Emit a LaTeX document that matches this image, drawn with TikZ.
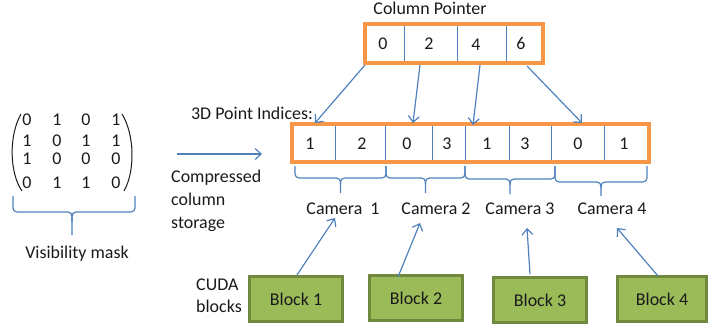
\documentclass[tikz,border=0pt]{standalone}
\usepackage{fontspec}
\setmainfont{Carlito}
\usetikzlibrary{arrows.meta}
\definecolor{lineblue}{HTML}{4F81BD}
\definecolor{boxorange}{HTML}{F79646}
\definecolor{blockgreen}{HTML}{9BBB59}
\definecolor{blockedge}{HTML}{71893F}
\definecolor{txt}{HTML}{1A1A1A}
\begin{document}
\begin{tikzpicture}[x=1bp,y=-1bp,
  lbl/.style={font=\fontsize{18}{20}\selectfont, text=txt, inner sep=0pt},
  conn/.style={draw=lineblue, line width=1.2bp},
  arr/.style={conn, -{Straight Barb[length=6bp,width=11bp]}},
  orangebox/.style={draw=boxorange, line width=4bp},
  divider/.style={draw=lineblue, line width=0.9bp},
  blockbox/.style={draw=blockedge, fill=blockgreen, line width=3bp, minimum width=#1, minimum height=45bp, inner sep=0pt, lbl},
  bracepath/.style={draw=lineblue, line width=1.2bp, rounded corners=4bp}
]
\useasboundingbox (0,0) rectangle (708,329);

% ---------- visibility matrix ----------
\foreach \r/\y/\a/\b/\c/\d in {1/120/0/1/0/1, 2/141/1/0/1/1, 3/159/1/0/0/0, 4/183/0/1/1/0}{
  \node[lbl] (m\r a) at (27,\y) {\a};
  \node[lbl] (m\r b) at (57,\y) {\b};
  \node[lbl] (m\r c) at (86,\y) {\c};
  \node[lbl] (m\r d) at (116,\y) {\d};
}
\draw[txt, line width=1bp] (21,114) .. controls (9,135) and (9,172) .. (22,191);
\draw[txt, line width=1bp] (122,114) .. controls (135,135) and (135,172) .. (124,191);
% brace under matrix
\coordinate (mbl) at (13,196);
\coordinate (mbr) at (135,196);
\coordinate (mbt) at (72,235);
\draw[bracepath] (mbl) |- (72,212) -- (mbt);
\draw[bracepath] (mbr) |- (72,212) -- (72,222);
\node[lbl] (vis) at (77,254) {Visibility mask};

% ---------- compressed column storage arrow ----------
\coordinate (ccsA) at (177,154);
\coordinate (ccsB) at (262,154);
\draw[arr] (ccsA) -- (ccsB);
\node[lbl, align=left, anchor=north west] (ccs) at (171,170)
  {Compressed\\[3bp]column\\[3bp]storage};

% ---------- column pointer ----------
\node[lbl] (cptitle) at (430,8) {Column Pointer};
\draw[divider] (404,24) -- (404,63) (457,24) -- (457,63) (506,24) -- (506,63);
\draw[orangebox] (365,24) rectangle (543,63);
\node[lbl] (cp0) at (383,44) {0};
\node[lbl] (cp1) at (429,44) {2};
\node[lbl] (cp2) at (476,45) {4};
\node[lbl] (cp3) at (521,44) {6};

% ---------- 3D point indices ----------
\node[lbl] (pititle) at (252,113) {3D Point Indices:};
\foreach \x in {335,385,432,465,509,551,604}{
  \draw[divider] (\x,124) -- (\x,162);
}
\draw[orangebox] (292,124) rectangle (649,162);
\foreach \i/\x/\v in {0/310/1, 1/362/2, 2/407/0, 3/447/3, 4/487/1, 5/525/3, 6/578/0, 7/624/1}{
  \node[lbl] (pi\i) at (\x,144) {\v};
}

% ---------- pointer arrows ----------
\coordinate (pa0) at (365,65);
\coordinate (pb0) at (315,123);
\coordinate (pa1) at (420,65);
\coordinate (pb1) at (413,123);
\coordinate (pa2) at (480,65);
\coordinate (pb2) at (473,125);
\coordinate (pa3) at (527,66);
\coordinate (pb3) at (582,123);
\foreach \k in {0,1,2,3}{ \draw[arr] (pa\k) -- (pb\k); }

% ---------- braces under index array ----------
\foreach \k/\xa/\xb/\ym/\yt in {1/295/386/178/193, 2/386/465/178/193, 3/465/555/179/194, 4/555/647/182/196}{
  \pgfmathsetmacro{\xc}{(\xa+\xb)/2}
  \coordinate (br\k l) at (\xa,166);
  \coordinate (br\k r) at (\xb,166);
  \coordinate (br\k t) at (\xc,\yt);
  \draw[bracepath] (br\k l) |- (\xc,\ym) -- (br\k t);
  \draw[bracepath] (br\k r) |- (\xc,\ym) -- (\xc,\ym+6);
}

% ---------- camera labels ----------
\node[lbl] (cam1) at (343,209) {Camera\ \ 1};
\node[lbl] (cam2) at (436,209) {Camera 2};
\node[lbl] (cam3) at (520,209) {Camera 3};
\node[lbl] (cam4) at (612,209) {Camera 4};

% ---------- CUDA blocks ----------
\node[lbl, align=left] (cuda) at (219,296) {CUDA\\[2bp]blocks};
\node[blockbox=93bp] (b1) at (296,299) {Block 1};
\node[blockbox=93bp] (b2) at (416,298) {Block 2};
\node[blockbox=93bp] (b3) at (540,300) {Block 3};
\node[blockbox=89bp] (b4) at (662,299) {Block 4};

% ---------- block to camera arrows ----------
\coordinate (ba1) at (297,275);
\coordinate (bt1) at (335,218);
\coordinate (ba2) at (398,277);
\coordinate (bt2) at (420,223);
\coordinate (ba3) at (530,274);
\coordinate (bt3) at (527,228);
\coordinate (ba4) at (658,276);
\coordinate (bt4) at (617,228);
\foreach \k in {1,2,3,4}{ \draw[arr] (ba\k) -- (bt\k); }
\end{tikzpicture}
\end{document}
